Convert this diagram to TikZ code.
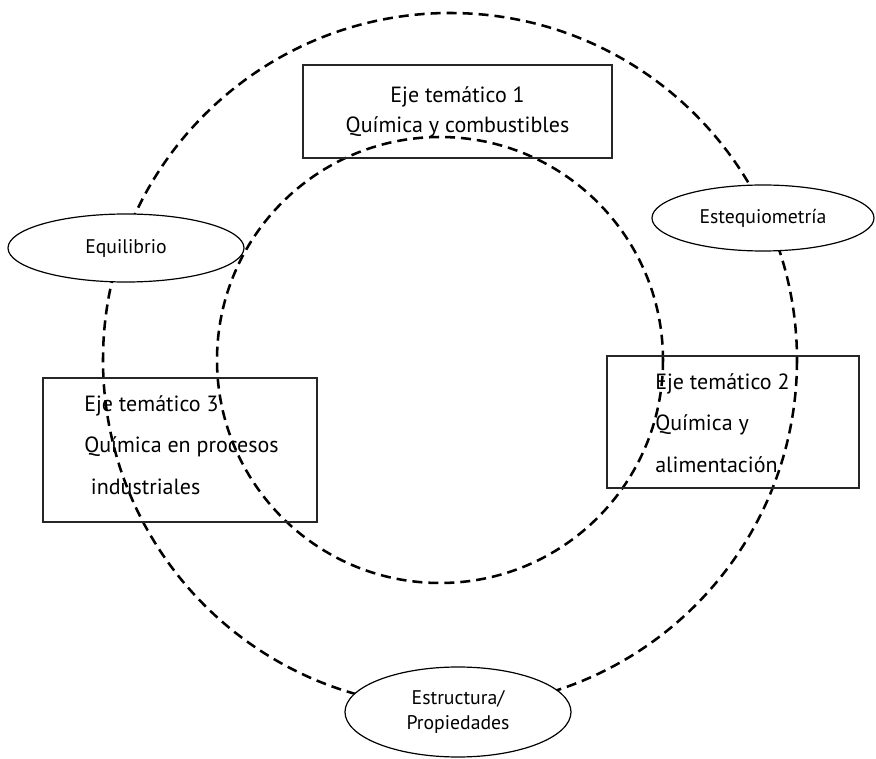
\documentclass[tikz,border=0pt]{standalone}
\usepackage{fontspec}
\setmainfont{PT Sans}
\usetikzlibrary{shapes.geometric,positioning}

\begin{document}
\begin{tikzpicture}[x=0.75pt, y=-0.75pt,
          ring/.style={dashed,line width=1.9pt,dash pattern=on 7.5pt off 4.5pt},
          eje/.style={rectangle,draw=black!85,line width=1.5pt,inner sep=0pt,font=\fontsize{16.5}{22.5}\selectfont},
          tema/.style={align=left,inner sep=0pt,font=\fontsize{16.5}{31}\selectfont},
          concepto/.style={ellipse,draw,fill=white,line width=0.9pt,inner sep=0pt,align=center,font=\fontsize{14.8}{18.5}\selectfont}
      ]
        \useasboundingbox (0,0) rectangle (876,759);
        % two dashed rings
        \draw[ring] (450,360) circle[radius=347];
        \draw[ring] (440,360) circle[radius=223];
        % thematic axes
        \node[eje,minimum width=231.75pt,minimum height=69.75pt,align=center] (eje1) at (457.5,112)
             {Eje temático 1\\Química y combustibles};
        \node[eje,minimum width=189pt,minimum height=99pt] (eje2) at (733,422) {};
        \node[tema,anchor=west] (txt2) at (655,423)
             {Eje temático 2\\Química y\\alimentación};
        \node[eje,minimum width=205.5pt,minimum height=108pt] (eje3) at (180,450) {};
        \node[tema,anchor=west] (txt3) at (84,445)
             {Eje temático 3\\Química en procesos\\\hspace*{5pt}industriales};
        % concepts on the outer ring
        \node[concepto,minimum width=177pt,minimum height=51pt]   (equi) at (126,248) {Equilibrio};
        \node[concepto,minimum width=166.5pt,minimum height=49.5pt] (este) at (763,218) {Estequiometría};
        \node[concepto,minimum width=169.5pt,minimum height=67.5pt] (estr) at (458,712) {Estructura/\\Propiedades};
      \end{tikzpicture}
\end{document}
